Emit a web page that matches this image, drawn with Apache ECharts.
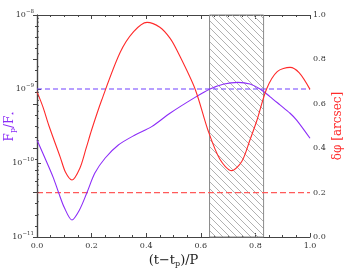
<!DOCTYPE html>
<html><head><meta charset="utf-8">
<script src="https://cdn.jsdelivr.net/npm/echarts@6/dist/echarts.min.js"></script>
<style>html,body{margin:0;padding:0;background:#fff}#c{width:354px;height:270px}</style>
</head><body><div id="c"></div>
<script>
// Planet/star flux ratio (left log axis)
const fluxPhase = [0.00, 0.037, 0.06, 0.079, 0.10, 0.128, 0.155, 0.182, 0.212, 0.249, 0.298, 0.359, 0.42, 0.487, 0.579, 0.634, 0.685, 0.736, 0.78, 0.817, 0.853, 0.89, 0.927, 0.951, 1.00];
const fluxValues = [2.05e-10, 1.0e-10, 6.3e-11, 4.0e-11, 2.5e-11, 1.7e-11, 2.3e-11, 3.9e-11, 7.3e-11, 1.16e-10, 1.75e-10, 2.39e-10, 3.1e-10, 4.7e-10, 7.7e-10, 1.0e-9, 1.17e-9, 1.23e-9, 1.17e-9, 1.0e-9, 7.9e-10, 6.1e-10, 4.7e-10, 3.8e-10, 2.16e-10];
// Astrometric signal (right axis, arcsec)
const dphiPhase = [0.00, 0.022, 0.044, 0.085, 0.105, 0.128, 0.157, 0.18, 0.20, 0.237, 0.304, 0.354, 0.403, 0.45, 0.487, 0.513, 0.579, 0.626, 0.67, 0.713, 0.75, 0.78, 0.806, 0.841, 0.88, 0.927, 0.96, 1.00];
const dphiValues = [0.655, 0.585, 0.5, 0.36, 0.29, 0.257, 0.31, 0.40, 0.482, 0.617, 0.83, 0.925, 0.967, 0.945, 0.896, 0.84, 0.667, 0.482, 0.35, 0.299, 0.34, 0.437, 0.527, 0.667, 0.745, 0.764, 0.74, 0.665];
const fluxThreshold = 1e-9;
const dphiThreshold = 0.2;
const hatchRange = [0.632, 0.83];
const logMinorTicks = [];
[-11, -10, -9].forEach(e => { for (let m = 2; m <= 9; m++) logMinorTicks.push(m * Math.pow(10, e)); });

const FONT = 'DejaVu Serif';
const PURPLE = '#8c2cf8';
const RED = '#ff2a2a';
const AX = '#444';

const hatch = document.createElement('canvas');
hatch.width = 7; hatch.height = 7;
const hc = hatch.getContext('2d');
hc.strokeStyle = '#a8a8a8'; hc.lineWidth = 0.9;
hc.beginPath();
hc.moveTo(0, 0); hc.lineTo(7, 7);
hc.moveTo(-1, 6); hc.lineTo(1, 8);
hc.moveTo(6, -1); hc.lineTo(8, 1);
hc.stroke();

const chart = echarts.init(document.getElementById('c'), null, {renderer: 'canvas'});
const supRich = {
  b: {fontFamily: FONT, fontSize: 8, color: '#333'},
  s: {fontFamily: FONT, fontSize: 5.5, color: '#333', verticalAlign: 'top', padding: [0, 0, 6, 0]}
};
chart.setOption({
  animation: false,
  grid: {left: 37, right: 44, top: 15, bottom: 33, outerBoundsMode: 'none', containLabel: false},
  xAxis: [{
    type: 'value', min: 0, max: 1, interval: 0.2,
    axisLine: {show: true, lineStyle: {color: AX, width: 1.2}},
    axisTick: {inside: true, length: 4, lineStyle: {color: AX}},
    minorTick: {show: true, splitNumber: 4, length: 2, lineStyle: {color: AX}},
    axisLabel: {fontFamily: FONT, fontSize: 8, color: '#333', margin: 5, formatter: v => v.toFixed(1)},
    splitLine: {show: false},
    name: '(t\u2212t{sub|p})/P', nameLocation: 'middle', nameGap: 17, nameMoveOverlap: false,
    nameTextStyle: {fontFamily: FONT, fontSize: 13, color: '#222', rich: {sub: {fontFamily: FONT, fontSize: 8, color: '#222', verticalAlign: 'bottom', padding: [6, 0, 0, 0]}}}
  }, {
    type: 'value', min: 0, max: 1, interval: 0.2, position: 'top',
    axisLine: {show: true, lineStyle: {color: AX, width: 1.2}},
    axisTick: {inside: true, length: 4, lineStyle: {color: AX}},
    minorTick: {show: true, splitNumber: 4, length: 2, lineStyle: {color: AX}},
    axisLabel: {show: false}, splitLine: {show: false}
  }],
  yAxis: [{
    type: 'log', logBase: 10, min: 1e-11, max: 1e-8,
    axisLine: {show: true, lineStyle: {color: AX, width: 1.2}},
    axisTick: {inside: true, length: 4, lineStyle: {color: AX}},
    splitLine: {show: false},
    axisLabel: {margin: 3, formatter: v => '{b|10}{s|\u2212' + Math.round(-Math.log10(v)) + '}', rich: supRich},
    name: 'F{sub|p}/F{sub|\u22c6}', nameLocation: 'middle', nameGap: 20, nameRotate: 90, nameMoveOverlap: false,
    nameTextStyle: {fontFamily: FONT, fontSize: 12, color: PURPLE, rich: {sub: {fontFamily: FONT, fontSize: 8, color: PURPLE, verticalAlign: 'bottom', padding: [6, 0, 0, 0]}}}
  }, {
    type: 'value', min: 0, max: 1, interval: 0.2, position: 'right',
    axisLine: {show: true, lineStyle: {color: AX, width: 1.2}},
    axisTick: {inside: true, length: 4, lineStyle: {color: AX}},
    minorTick: {show: true, splitNumber: 4, length: 2, lineStyle: {color: AX}},
    splitLine: {show: false},
    axisLabel: {fontFamily: FONT, fontSize: 8, color: '#333', margin: 3, formatter: v => v.toFixed(1)},
    name: '\u03b4\u03c6 [arcsec]', nameLocation: 'middle', nameGap: 22, nameRotate: 90, nameMoveOverlap: false,
    nameTextStyle: {fontFamily: FONT, fontSize: 12, color: RED}
  }],
  series: [{
    type: 'line', xAxisIndex: 0, yAxisIndex: 1, data: [[0, 0], [1, 0]], symbol: 'none',
    lineStyle: {width: 0}, silent: true, z: 1,
    markArea: {silent: true, itemStyle: {color: {image: hatch, repeat: 'repeat'}, borderColor: '#8a8a8a', borderWidth: 1},
      data: [[{xAxis: hatchRange[0], yAxis: 0}, {xAxis: hatchRange[1], yAxis: 1}]]}
  }, {
    type: 'line', yAxisIndex: 0, symbol: 'none', z: 3,
    data: [[0, fluxThreshold], [1, fluxThreshold]],
    lineStyle: {color: '#7040ff', width: 1.1, type: [5, 3]}
  }, {
    type: 'line', yAxisIndex: 1, symbol: 'none', z: 3,
    data: [[0, dphiThreshold], [1, dphiThreshold]],
    lineStyle: {color: '#ff5a5a', width: 1.4, type: [6, 3]}
  }, {
    type: 'line', yAxisIndex: 0, symbol: 'none', smooth: 0.3, z: 4,
    data: fluxPhase.map((x, i) => [x, fluxValues[i]]),
    lineStyle: {color: PURPLE, width: 1.1}
  }, {
    type: 'line', yAxisIndex: 1, symbol: 'none', smooth: 0.3, z: 4,
    data: dphiPhase.map((x, i) => [x, dphiValues[i]]),
    lineStyle: {color: RED, width: 1.1}
  }, {
    type: 'custom', xAxisIndex: 0, yAxisIndex: 0, z: 5, silent: true,
    data: logMinorTicks.map(v => [0, v]),
    renderItem: (params, api) => {
      const p = api.coord([0, api.value(1)]);
      return {type: 'line', shape: {x1: p[0], y1: p[1], x2: p[0] + 2, y2: p[1]}, style: {stroke: AX, lineWidth: 0.8}};
    }
  }]
});
</script></body></html>
